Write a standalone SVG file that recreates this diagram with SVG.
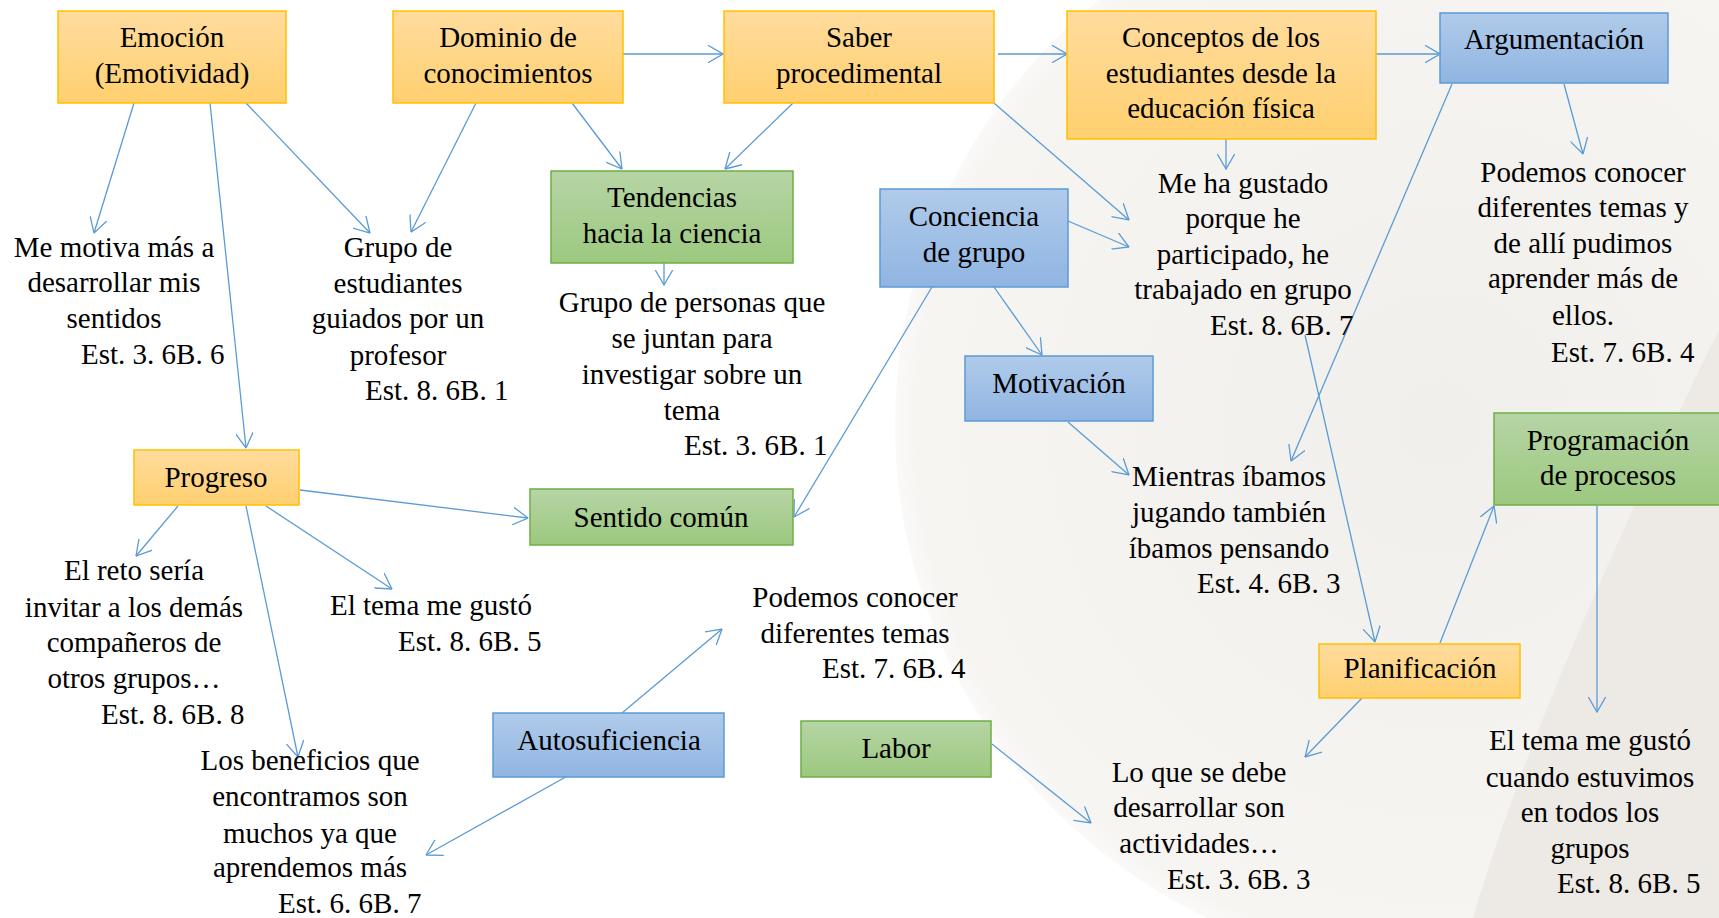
<svg xmlns="http://www.w3.org/2000/svg" width="1719" height="918" viewBox="0 0 1719 918" font-family="'Liberation Serif', 'Times New Roman', Times, serif" font-size="29">
<defs>
<linearGradient id="gO" x1="0" y1="0" x2="0" y2="1"><stop offset="0" stop-color="#FFDC9E"/><stop offset="1" stop-color="#FFD06F"/></linearGradient>
<linearGradient id="gB" x1="0" y1="0" x2="0" y2="1"><stop offset="0" stop-color="#B0CBEA"/><stop offset="1" stop-color="#90B5E2"/></linearGradient>
<linearGradient id="gG" x1="0" y1="0" x2="0" y2="1"><stop offset="0" stop-color="#B6D5A5"/><stop offset="1" stop-color="#9CC87F"/></linearGradient>
<radialGradient id="gBg" cx="1440" cy="425" r="545" gradientUnits="userSpaceOnUse"><stop offset="0" stop-color="#F1EFEC"/><stop offset="0.96" stop-color="#F6F5F2"/><stop offset="1" stop-color="#FAF9F8"/></radialGradient>
<marker id="ar" viewBox="0 0 16 18" refX="15.5" refY="9" markerWidth="16" markerHeight="18" markerUnits="userSpaceOnUse" orient="auto">
<path d="M0,0 L15.5,9 L0,18" fill="none" stroke="#5B9BD5" stroke-width="1.3"/>
</marker>
</defs>
<style>
.o{fill:url(#gO);stroke:#FFC000;stroke-width:1.5}
.b{fill:url(#gB);stroke:#5B9BD5;stroke-width:1.5}
.g{fill:url(#gG);stroke:#70AD47;stroke-width:1.5}
text{font-family:'Liberation Serif', 'Times New Roman', Times, serif;font-size:29px;fill:#000}
.c{text-anchor:middle}
#connectors line{stroke:#5B9BD5;stroke-width:1.3;marker-end:url(#ar)}
</style>
<rect x="0" y="0" width="1719" height="918" fill="#FFFFFF"/>
<circle cx="1440" cy="425" r="545" fill="url(#gBg)"/>
<path d="M1473,918 Q1540,690 1719,330 L1719,918 Z" fill="#EDEAE6"/>

<g id="connectors">
<line x1="134" y1="103" x2="94" y2="233"/>
<line x1="210" y1="103" x2="246" y2="448"/>
<line x1="246" y1="103" x2="370" y2="233"/>
<line x1="476" y1="103" x2="411" y2="232"/>
<line x1="572" y1="103" x2="622" y2="169"/>
<line x1="623" y1="54" x2="723" y2="54"/>
<line x1="793" y1="103" x2="725" y2="169"/>
<line x1="998" y1="54" x2="1067" y2="54"/>
<line x1="994" y1="103" x2="1129" y2="220"/>
<line x1="1068" y1="221" x2="1129" y2="247"/>
<line x1="1226" y1="139" x2="1226" y2="169"/>
<line x1="1376" y1="54" x2="1440" y2="54"/>
<line x1="1564" y1="84" x2="1583" y2="154"/>
<line x1="1452" y1="84" x2="1291" y2="461"/>
<line x1="664" y1="263" x2="664" y2="285"/>
<line x1="932" y1="287" x2="794" y2="517"/>
<line x1="994" y1="287" x2="1042" y2="355"/>
<line x1="1068" y1="422" x2="1129" y2="475"/>
<line x1="1305" y1="335" x2="1375" y2="642"/>
<line x1="1440" y1="643" x2="1494" y2="506"/>
<line x1="1597" y1="506" x2="1597" y2="712"/>
<line x1="1362" y1="698" x2="1305" y2="757"/>
<line x1="992" y1="744" x2="1091" y2="823"/>
<line x1="178" y1="506" x2="136" y2="556"/>
<line x1="300" y1="490" x2="528" y2="518"/>
<line x1="266" y1="506" x2="392" y2="589"/>
<line x1="246" y1="506" x2="298" y2="757"/>
<line x1="622" y1="713" x2="722" y2="629"/>
<line x1="571" y1="774" x2="426" y2="855"/>
</g>

<g id="n-emocion"><rect class="o" x="58" y="11" width="228" height="92"/><text class="c" x="172" y="47">Emoción</text><text class="c" x="172" y="83">(Emotividad)</text></g>
<g id="n-dominio"><rect class="o" x="393" y="11" width="230" height="92"/><text class="c" x="508" y="47">Dominio de</text><text class="c" x="508" y="83">conocimientos</text></g>
<g id="n-saber"><rect class="o" x="724" y="11" width="270" height="92"/><text class="c" x="859" y="47">Saber</text><text class="c" x="859" y="83">procedimental</text></g>
<g id="n-conceptos"><rect class="o" x="1067" y="11" width="309" height="128"/><text class="c" x="1221" y="47">Conceptos de los</text><text class="c" x="1221" y="83">estudiantes desde la</text><text class="c" x="1221" y="118">educación física</text></g>
<g id="n-argumentacion"><rect class="b" x="1440" y="13" width="228" height="70"/><text class="c" x="1554" y="49">Argumentación</text></g>
<g id="n-tendencias"><rect class="g" x="551" y="171" width="242" height="92"/><text class="c" x="672" y="207">Tendencias</text><text class="c" x="672" y="243">hacia la ciencia</text></g>
<g id="n-conciencia"><rect class="b" x="880" y="189" width="188" height="98"/><text class="c" x="974" y="226">Conciencia</text><text class="c" x="974" y="262">de grupo</text></g>
<g id="n-motivacion"><rect class="b" x="965" y="356" width="188" height="65"/><text class="c" x="1059" y="393">Motivación</text></g>
<g id="n-progreso"><rect class="o" x="134" y="450" width="165" height="55"/><text class="c" x="216" y="487">Progreso</text></g>
<g id="n-sentido"><rect class="g" x="530" y="489" width="263" height="56"/><text class="c" x="661" y="527">Sentido común</text></g>
<g id="n-programacion"><rect class="g" x="1494" y="413" width="232" height="92"/><text class="c" x="1608" y="450">Programación</text><text class="c" x="1608" y="485">de procesos</text></g>
<g id="n-planificacion"><rect class="o" x="1319" y="644" width="201" height="54"/><text class="c" x="1420" y="678">Planificación</text></g>
<g id="n-autosuficiencia"><rect class="b" x="493" y="713" width="231" height="64"/><text class="c" x="609" y="750">Autosuficiencia</text></g>
<g id="n-labor"><rect class="g" x="801" y="721" width="190" height="56"/><text class="c" x="896" y="758">Labor</text></g>

<g id="t-motiva"><text class="c" x="114" y="257">Me motiva más a</text><text class="c" x="114" y="292">desarrollar mis</text><text class="c" x="114" y="328">sentidos</text><text x="81" y="364">Est. 3. 6B. 6</text></g>
<g id="t-grupoest"><text class="c" x="398" y="257">Grupo de</text><text class="c" x="398" y="293">estudiantes</text><text class="c" x="398" y="328">guiados por un</text><text class="c" x="398" y="365">profesor</text><text x="365" y="400">Est. 8. 6B. 1</text></g>
<g id="t-grupoper"><text class="c" x="692" y="312">Grupo de personas que</text><text class="c" x="692" y="348">se juntan para</text><text class="c" x="692" y="384">investigar sobre un</text><text class="c" x="692" y="420">tema</text><text x="684" y="455">Est. 3. 6B. 1</text></g>
<g id="t-gustado"><text class="c" x="1243" y="193">Me ha gustado</text><text class="c" x="1243" y="228">porque he</text><text class="c" x="1243" y="264">participado, he</text><text class="c" x="1243" y="299">trabajado en grupo</text><text x="1210" y="335">Est. 8. 6B. 7</text></g>
<g id="t-podemos1"><text class="c" x="1583" y="182">Podemos conocer</text><text class="c" x="1583" y="217">diferentes temas y</text><text class="c" x="1583" y="253">de allí pudimos</text><text class="c" x="1583" y="288">aprender más de</text><text class="c" x="1583" y="325">ellos.</text><text x="1551" y="362">Est. 7. 6B. 4</text></g>
<g id="t-mientras"><text class="c" x="1229" y="486">Mientras íbamos</text><text class="c" x="1229" y="522">jugando también</text><text class="c" x="1229" y="558">íbamos pensando</text><text x="1197" y="593">Est. 4. 6B. 3</text></g>
<g id="t-reto"><text class="c" x="134" y="580">El reto sería</text><text class="c" x="134" y="617">invitar a los demás</text><text class="c" x="134" y="652">compañeros de</text><text class="c" x="134" y="688">otros grupos…</text><text x="101" y="724">Est. 8. 6B. 8</text></g>
<g id="t-tema1"><text class="c" x="431" y="615">El tema me gustó</text><text x="398" y="651">Est. 8. 6B. 5</text></g>
<g id="t-beneficios"><text class="c" x="310" y="770">Los beneficios que</text><text class="c" x="310" y="806">encontramos son</text><text class="c" x="310" y="843">muchos ya que</text><text class="c" x="310" y="877">aprendemos más</text><text x="278" y="913">Est. 6. 6B. 7</text></g>
<g id="t-podemos2"><text class="c" x="855" y="607">Podemos conocer</text><text class="c" x="855" y="643">diferentes temas</text><text x="822" y="678">Est. 7. 6B. 4</text></g>
<g id="t-loque"><text class="c" x="1199" y="782">Lo que se debe</text><text class="c" x="1199" y="817">desarrollar son</text><text class="c" x="1199" y="853">actividades…</text><text x="1167" y="889">Est. 3. 6B. 3</text></g>
<g id="t-tema2"><text class="c" x="1590" y="750">El tema me gustó</text><text class="c" x="1590" y="787">cuando estuvimos</text><text class="c" x="1590" y="822">en todos los</text><text class="c" x="1590" y="858">grupos</text><text x="1557" y="893">Est. 8. 6B. 5</text></g>
</svg>
